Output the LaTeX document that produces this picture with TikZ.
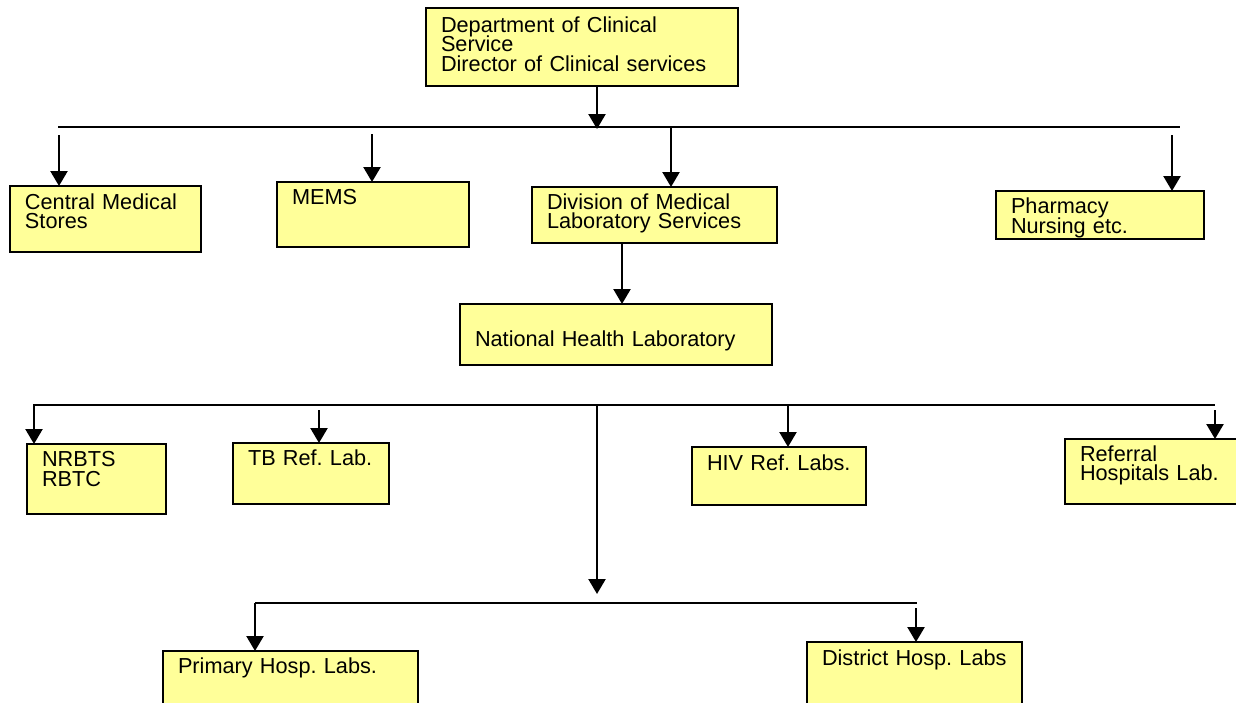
\documentclass[tikz,border=0pt]{standalone}
\usepackage{fontspec}
\setmainfont{Liberation Sans}
\usetikzlibrary{arrows.meta}
\definecolor{boxyellow}{RGB}{255,255,153}
\newcommand\unitfont{\fontsize{10.85pt}{9.9pt}\selectfont\frenchspacing\lineskiplimit=-10pt\relax}

\begin{document}
\begin{tikzpicture}[x=0.5pt,y=-0.5pt,
		unit/.style={draw,fill=boxyellow,line width=1pt,anchor=north west,outer sep=0pt,inner xsep=7.5pt,inner ysep=0pt,align=left,font=\unitfont},
		arr/.style={line width=1.2pt,-{Triangle[width=8.5pt,length=7.5pt]}},
		bus/.style={line width=1pt}]
		\useasboundingbox (0,0) rectangle (1236,702);

		\node[unit,text width=141pt,text height=12pt,text depth=27pt] (dept) at (426,8) {Department of Clinical\\Service\\Director of Clinical services};
		\node[unit,text width=80.5pt,text height=11.5pt,text depth=21.5pt] (cms) at (10,186) {Central Medical\\Stores};
		\node[unit,text width=81pt,text height=11pt,text depth=21.5pt] (mems) at (277,182) {MEMS};
		\node[unit,text width=107.5pt,text height=11pt,text depth=17pt] (dls) at (532,187) {Division of Medical\\Laboratory Services};
		\node[unit,text width=89pt,text height=11.25pt,text depth=12.75pt] (pharm) at (996,191) {Pharmacy\\Nursing etc.};
		\node[unit,text width=141pt,text height=21.25pt,text depth=9.25pt] (nhl) at (460,304) {National Health Laboratory};
		\node[unit,text width=54.5pt,text height=11.25pt,text depth=23.75pt] (nrbts) at (27,444) {NRBTS\\RBTC};
		\node[unit,text width=63pt,text height=11.25pt,text depth=19.25pt] (tb) at (233,443) {TB Ref. Lab.};
		\node[unit,text width=72pt,text height=11.5pt,text depth=17.5pt] (hiv) at (692,447) {HIV Ref. Labs.};
		\node[unit,text width=72.5pt,text height=11pt,text depth=21.5pt] (refl) at (1065,439) {Referral\\Hospitals Lab.};
		\node[unit,text width=112.5pt,text height=11pt,text depth=19pt] (prim) at (163,651) {Primary Hosp. Labs.};
		\node[unit,text width=92.5pt,text height=11.5pt,text depth=22.5pt] (dist) at (807,642) {District Hosp. Labs};

		\coordinate (j0) at (597,129);
		\coordinate (b1w) at (58,127);
		\coordinate (b1e) at (1180,127);
		\coordinate (t1) at (59,135);
		\coordinate (t2) at (372,134);
		\coordinate (t3) at (671,127);
		\coordinate (t4) at (1172,135);
		\coordinate (t5) at (622,243);
		\coordinate (b2w) at (33,405);
		\coordinate (b2e) at (1215,405);
		\coordinate (s1) at (34,405);
		\coordinate (s2) at (319,410);
		\coordinate (s3) at (788,405);
		\coordinate (s4) at (1215,410);
		\coordinate (s5) at (597,405);
		\coordinate (m3) at (597,594);
		\coordinate (b3w) at (255,603);
		\coordinate (b3e) at (917,603);
		\coordinate (u1) at (255,603);
		\coordinate (u2) at (916,608);

		\draw[bus] (b1w) -- (b1e);
		\draw[arr] (j0 |- dept.south) -- (j0);
		\draw[arr] (t1) -- (t1 |- cms.north);
		\draw[arr] (t2) -- (t2 |- mems.north);
		\draw[arr] (t3) -- (t3 |- dls.north);
		\draw[arr] (t4) -- (t4 |- pharm.north);
		\draw[arr] (t5) -- (t5 |- nhl.north);

		\draw[bus] (b2w) -- (b2e);
		\draw[arr] (s1) -- (s1 |- nrbts.north);
		\draw[arr] (s2) -- (s2 |- tb.north);
		\draw[arr] (s3) -- (s3 |- hiv.north);
		\draw[arr] (s4) -- (s4 |- refl.north);
		\draw[arr] (s5) -- (m3);

		\draw[bus] (b3w) -- (b3e);
		\draw[arr] (u1) -- (u1 |- prim.north);
		\draw[arr] (u2) -- (u2 |- dist.north);
	\end{tikzpicture}
\end{document}
